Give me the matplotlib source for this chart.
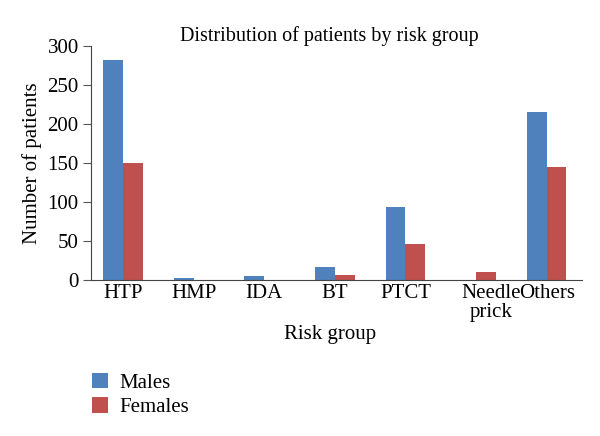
import numpy as np
import matplotlib.pyplot as plt
import matplotlib.transforms as mtransforms

plt.rcParams['font.family'] = ['Liberation Serif', 'DejaVu Serif']

groups = ["HTP", "HMP", "IDA", "BT", "PTCT", "Needle\nprick", "Others"]
males = [282, 3, 5, 16, 94, 0, 215]
females = [150, 0, 0, 6, 46, 10, 145]

blue = '#4F81BD'
red = '#C0504D'

fig = plt.figure(figsize=(6, 4.36), dpi=100)
ax = fig.add_axes([0.152, 0.358, 0.818, 0.536])

x = np.arange(len(groups))
w = 0.28
bars_m = ax.bar(x - w / 2, males, w, color=blue, label='Males')
bars_f = ax.bar(x + w / 2, females, w, color=red, label='Females')

fs = 15
ax.set_xlim(-0.45, 6.5)
ax.set_ylim(0, 300)
ax.set_yticks(range(0, 301, 50))
ax.set_xticks(x)
ax.set_xticklabels(groups, fontsize=fs, linespacing=1.0)
ax.tick_params(axis='x', length=0, pad=3)
ax.tick_params(axis='y', labelsize=fs, length=6, direction='out', color='#555555', pad=3)
for s in ['top', 'right']:
    ax.spines[s].set_visible(False)
for s in ['left', 'bottom']:
    ax.spines[s].set_color('#444444')

# Excel wrapped label sits a bit to the right
lbl = ax.get_xticklabels()[5]
lbl.set_transform(lbl.get_transform() + mtransforms.ScaledTranslation(0.15, 0, fig.dpi_scale_trans))

ax.set_title("Distribution of patients by risk group", fontsize=14.5, pad=4, x=0.486)
ax.set_ylabel("Number of patients", fontsize=fs, labelpad=4)
ax.set_xlabel("Risk group", fontsize=fs, labelpad=2, x=0.486)

fig.legend(handles=[bars_m, bars_f], loc='upper left', bbox_to_anchor=(0.122, 0.188),
           frameon=False, fontsize=fs, handlelength=0.75, handleheight=0.75,
           labelspacing=0.22, handletextpad=0.55)

fig.savefig('out.png', dpi=100)
